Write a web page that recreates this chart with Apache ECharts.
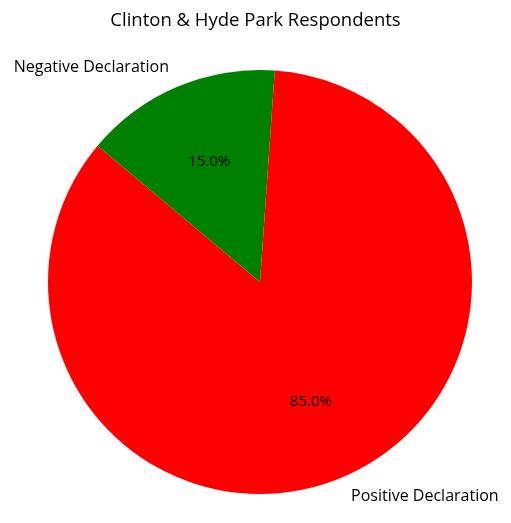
<!DOCTYPE html>
<html>
<head>
<meta charset="utf-8">
<script src="https://cdn.jsdelivr.net/npm/echarts@6/dist/echarts.min.js"></script>
<style>
html,body{margin:0;padding:0;background:#fff;}
#myChart{width:511px;height:523px;}
</style>
</head>
<body>
<div id="myChart"></div>
<script>
var labels = ['Positive Declaration', 'Negative Declaration'];
var values = [85, 15];
var colors = ['#ff0000', '#008000'];

var font = 'Open Sans';
var cx = 260, cy = 282, r = 212;

var arr = [];
for (var i = 0; i < labels.length; i++) {
	arr.push({ name: labels[i], value: values[i], itemStyle: { color: colors[i] } });
}

var myChart = echarts.init(document.getElementById('myChart'));
myChart.setOption({
	animation: false,
	title: {
		text: 'Clinton & Hyde Park Respondents',
		left: 'center',
		top: 6,
		textStyle: { color: '#000', fontSize: 18.5, fontWeight: 'normal', fontFamily: font }
	},
	series: [{
		// 饼图本体 + 外侧名称
		type: 'pie',
		center: [cx, cy],
		radius: [0, r],
		startAngle: 140,
		clockwise: false,
		avoidLabelOverlap: false,
		silent: true,
		emphasis: { disabled: true },
		data: arr,
		label: {
			show: true,
			position: 'outside',
			formatter: '{b}',
			distanceToLabelLine: 0,
			color: '#000',
			fontSize: 16,
			fontFamily: font
		},
		labelLine: { show: false, length: 21, length2: 0 }
	}, {
		// 透明层, 百分比放在 0.6r
		type: 'pie',
		center: [cx, cy],
		radius: [0, r * 1.2],
		startAngle: 140,
		clockwise: false,
		silent: true,
		emphasis: { disabled: true },
		itemStyle: { color: 'transparent' },
		data: arr.map(function (d) { return { name: d.name, value: d.value }; }),
		label: {
			show: true,
			position: 'inside',
			formatter: function (p) { return p.percent.toFixed(1) + '%'; },
			color: '#000',
			fontSize: 15,
			fontFamily: font
		},
		labelLine: { show: false }
	}]
});
</script>
</body>
</html>
